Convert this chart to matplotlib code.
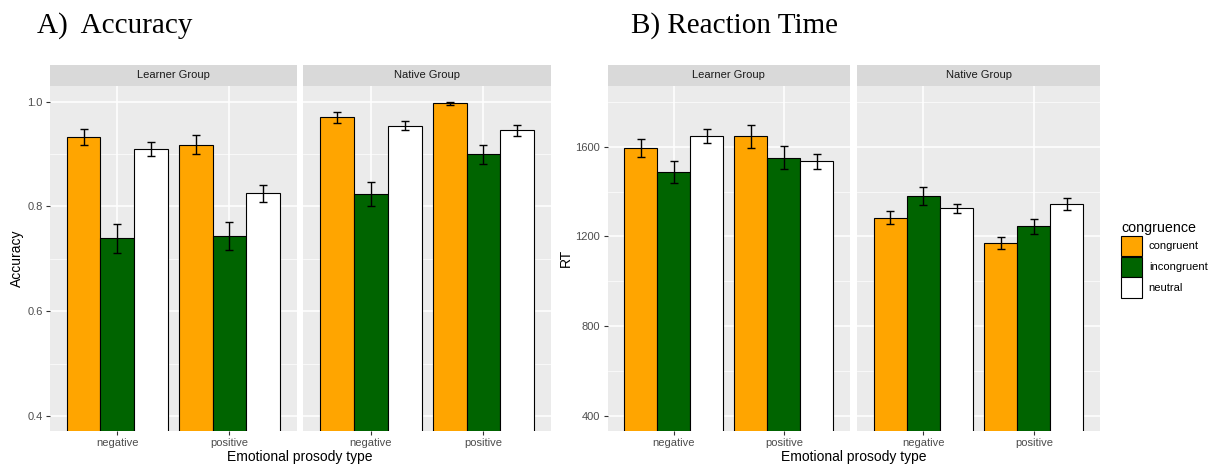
import matplotlib
matplotlib.use('Agg')
import matplotlib.pyplot as plt
from matplotlib.patches import Patch
import numpy as np

plt.rcParams['font.family'] = ['Liberation Sans', 'DejaVu Sans']

# ---- data ----
prosody = ['negative', 'positive']
congruence = ['congruent', 'incongruent', 'neutral']
colors = {'congruent': '#FFA500', 'incongruent': '#006400', 'neutral': '#FFFFFF'}
groups = ['Learner Group', 'Native Group']

# values for negative, positive
acc_learner = {'congruent': [0.933, 0.918], 'incongruent': [0.739, 0.743], 'neutral': [0.910, 0.825]}
acc_learner_se = {'congruent': [0.015, 0.018], 'incongruent': [0.027, 0.027], 'neutral': [0.013, 0.016]}
acc_native = {'congruent': [0.970, 0.997], 'incongruent': [0.824, 0.900], 'neutral': [0.954, 0.945]}
acc_native_se = {'congruent': [0.011, 0.003], 'incongruent': [0.023, 0.018], 'neutral': [0.009, 0.010]}

rt_learner = {'congruent': [1595, 1646], 'incongruent': [1487, 1551], 'neutral': [1648, 1535]}
rt_learner_se = {'congruent': [41, 50], 'incongruent': [49, 52], 'neutral': [33, 33]}
rt_native = {'congruent': [1284, 1171], 'incongruent': [1379, 1245], 'neutral': [1326, 1345]}
rt_native_se = {'congruent': [30, 27], 'incongruent': [40, 35], 'neutral': [21, 28]}

acc_ticks = [0.4, 0.6, 0.8, 1.0]
acc_minor = [0.5, 0.7, 0.9]
rt_ticks = [400, 800, 1200, 1600]
rt_minor = [600, 1000, 1400, 1800]

W, H = 1215, 466
fig = plt.figure(figsize=(W / 100, H / 100), dpi=100)
fig.patch.set_facecolor('white')


def px_axes(left, top, right, bottom):
    return fig.add_axes([left / W, 1 - bottom / H, (right - left) / W, (bottom - top) / H])


def draw_panel(left, right, title, means, ses, ylim, ticks, minor, show_y):
    ax = px_axes(left, 85.7, right, 430.7)
    ax.set_facecolor('#EBEBEB')
    for s in ax.spines.values():
        s.set_visible(False)
    x = np.arange(1, len(prosody) + 1)
    width = 0.3
    for i, c in enumerate(congruence):
        xs = x + (i - 1) * width
        ax.bar(xs, means[c], width=width, color=colors[c], edgecolor='black',
               linewidth=0.8, zorder=3)
        ax.errorbar(xs, means[c], yerr=ses[c], fmt='none', ecolor='black',
                    elinewidth=1.0, capsize=3.2, capthick=1.0, zorder=4)
    ax.set_xlim(0.4, 2.6)
    ax.set_ylim(*ylim)
    ax.set_xticks(x)
    ax.set_xticklabels(prosody)
    ax.set_yticks(ticks)
    ax.set_yticks(minor, minor=True)
    ax.grid(True, which='major', color='white', linewidth=1.1, zorder=0)
    ax.grid(True, which='minor', axis='y', color='white', linewidth=0.5, zorder=0)
    ax.set_axisbelow(True)
    ax.tick_params(axis='both', which='major', length=2.8, width=0.8, color='#333333',
                   labelcolor='#4D4D4D', labelsize=8, pad=2.5)
    ax.tick_params(axis='y', which='minor', length=0)
    if show_y:
        ax.set_yticklabels([('%g' % t) if isinstance(t, int) else ('%.1f' % t) for t in ticks])
    else:
        ax.tick_params(axis='y', which='major', length=0, labelleft=False)
    # facet strip
    st = px_axes(left, 64.7, right, 85.7)
    st.set_facecolor('#D9D9D9')
    st.set_xticks([])
    st.set_yticks([])
    for s in st.spines.values():
        s.set_visible(False)
    st.text(0.5, 0.5, title, ha='center', va='center', fontsize=8, color='#1A1A1A',
            transform=st.transAxes)
    return ax


acc_lim = (0.372, 1.0305)
rt_lim = (334.5, 1872)

draw_panel(50, 296.7, groups[0], acc_learner, acc_learner_se, acc_lim, acc_ticks, acc_minor, True)
draw_panel(303.3, 551, groups[1], acc_native, acc_native_se, acc_lim, acc_ticks, acc_minor, False)
draw_panel(607.7, 850, groups[0], rt_learner, rt_learner_se, rt_lim, rt_ticks, rt_minor, True)
draw_panel(857.3, 1100, groups[1], rt_native, rt_native_se, rt_lim, rt_ticks, rt_minor, False)

# axis titles
fig.text(17 / W, 1 - 258 / H, 'Accuracy', rotation=90, ha='center', va='center', fontsize=10)
fig.text(566 / W, 1 - 258 / H, 'RT', rotation=90, ha='center', va='center', fontsize=10)
fig.text(300 / W, 1 - 457 / H, 'Emotional prosody type', ha='center', va='center', fontsize=10)
fig.text(854 / W, 1 - 457 / H, 'Emotional prosody type', ha='center', va='center', fontsize=10)

# panel headings
fig.text(37 / W, 1 - 33 / H, 'A)  Accuracy', ha='left', va='baseline', fontsize=21,
         family=['Liberation Serif', 'DejaVu Serif'])
fig.text(631 / W, 1 - 33 / H, 'B) Reaction Time', ha='left', va='baseline', fontsize=21,
         family=['Liberation Serif', 'DejaVu Serif'])

# legend
handles = [Patch(facecolor=colors[c], edgecolor='black', linewidth=0.8, label=c) for c in congruence]
leg = fig.legend(handles=handles, title='congruence', loc='upper left',
                 bbox_to_anchor=(1121 / W, 1 - 221 / H), frameon=False, fontsize=8,
                 title_fontsize=10.3, handlelength=1.9, handleheight=2.45,
                 labelspacing=0.05, handletextpad=0.6, borderpad=0, borderaxespad=0,
                 alignment='left')

fig.savefig('out.png', dpi=100, facecolor='white')
